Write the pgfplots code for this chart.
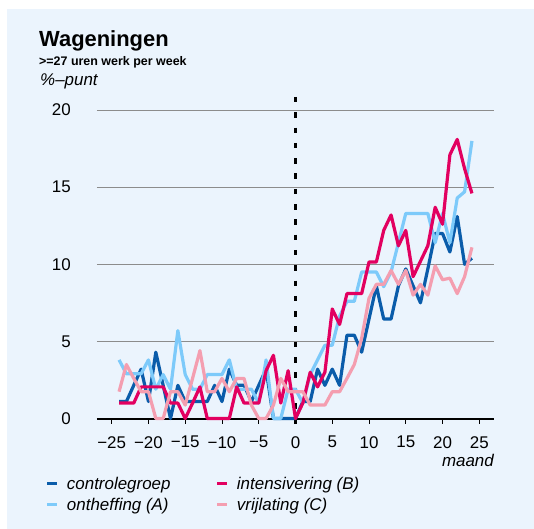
\documentclass[border=0pt]{standalone}
\usepackage{fontspec}
\setmainfont{Liberation Sans}
\usepackage{pgfplots}
\pgfplotsset{compat=1.18}

\definecolor{panel}{RGB}{235,244,253}
\definecolor{ctrl}{RGB}{10,92,170}
\definecolor{grpA}{RGB}{125,202,250}
\definecolor{grpB}{RGB}{226,0,96}
\definecolor{grpC}{RGB}{244,158,176}
\definecolor{gridgray}{RGB}{140,140,140}

\begin{document}
\begin{tikzpicture}
\fill[white] (-97bp,-110.5bp) rectangle (437bp,418.5bp);
\fill[panel] (-90bp,-110.5bp) rectangle (437bp,409.5bp);
\begin{axis}[
  at={(0,0)}, anchor=south west,
  scale only axis, width=397bp, height=321.5bp,
  xmin=-27, xmax=27, ymin=0, ymax=20.85,
  clip=false,
  axis line style={draw=none},
  xtick={-25,-20,...,25},
  xticklabels={−25,−20,−15,−10,−5,0,5,10,15,20,25},
  ytick={5,10,15,20},
  extra y ticks={0},
  extra y tick style={grid style={black, line width=2bp}, tick style={draw=none}},
  ymajorgrids,
  grid style={gridgray, line width=1.2bp},
  tick align=outside,
  xtick pos=bottom, ytick pos=left,
  major tick length=5bp,
  xtick style={black, line width=0.9bp},
  ytick style={draw=none},
  ticklabel style={font=\fontsize{17}{17}\selectfont},
  /pgf/number format/assume math mode=true,
  xticklabel style={inner sep=0pt, anchor=north, yshift=-12.5bp},
  yticklabel style={inner sep=0pt, anchor=east, xshift=-21bp},
  legend columns=2, transpose legend,
  legend cell align=left,
  legend style={at={(-0.130,-0.182)}, anchor=north west, draw=none, fill=none,
    inner sep=0pt, font=\itshape\fontsize{17}{17}\selectfont,
    nodes={inner sep=0pt, text height=12bp, text depth=4bp}, row sep=5.5bp,
    /tikz/every odd column/.append style={column sep=8.4bp},
    /tikz/every even column/.append style={column sep=45bp}},
  legend image code/.code={\draw[#1, line width=3bp] (0bp,2bp) -- (10bp,2bp);},
  every axis plot/.append style={line width=3.2bp, line join=round},
]
\addplot[black, line width=2.2bp, dash pattern=on 5.5bp off 9.8bp, forget plot]
  coordinates {(0,20.85) (0,-0.75)};

% controlegroep
\addplot[ctrl] coordinates {
(-24,1.1) (-23,1.1) (-22,2.15) (-21,3.2) (-20,1.1) (-19,4.3) (-18,2.15) (-17,0)
(-16,2.15) (-15,1.1) (-14,1.1) (-13,1.1) (-12,1.1) (-11,2.15) (-10,1.1) (-9,3.2)
(-8,2.15) (-7,2.15) (-6,1.1) (-5,2.15) (-4,3.2) (-3,0) (-2,0) (-1,0)
(0,0) (1,1.1) (2,1.1) (3,3.2) (4,2.15) (5,3.2) (6,2.15) (7,5.4)
(8,5.4) (9,4.3) (10,6.45) (11,8.6) (12,6.45) (13,6.45) (14,8.6) (15,9.7)
(16,8.6) (17,7.5) (18,9.7) (19,12.0) (20,12.0) (21,10.8) (22,13.1) (23,10.0) (24,10.4)};
\addlegendentry{controlegroep}

% ontheffing (A)
\addplot[grpA] coordinates {
(-24,3.8) (-23,2.9) (-22,2.9) (-21,2.9) (-20,3.8) (-19,1.9) (-18,2.85) (-17,1.9)
(-16,5.7) (-15,2.85) (-14,1.9) (-13,1.9) (-12,2.85) (-11,2.85) (-10,2.85) (-9,3.8)
(-8,1.9) (-7,1.9) (-6,1.9) (-5,1.0) (-4,3.8) (-3,0) (-2,0) (-1,1.9)
(0,1.9) (1,1.0) (2,2.85) (3,3.8) (4,4.75) (5,4.75) (6,6.65) (7,7.6)
(8,7.6) (9,9.5) (10,9.5) (11,9.5) (12,8.55) (13,9.5) (14,11.4) (15,13.3)
(16,13.3) (17,13.3) (18,13.3) (19,11.4) (20,13.3) (21,11.4) (22,14.3) (23,14.7) (24,18.0)};
\addlegendentry{ontheffing (A)}

% intensivering (B)
\addplot[grpB] coordinates {
(-24,1.0) (-23,1.0) (-22,1.0) (-21,2.05) (-20,2.05) (-19,2.05) (-18,2.05) (-17,1.0)
(-16,1.0) (-15,0) (-14,1.0) (-13,2.05) (-12,0) (-11,0) (-10,0) (-9,0)
(-8,2.05) (-7,1.0) (-6,1.0) (-5,1.0) (-4,3.1) (-3,4.1) (-2,1.0) (-1,3.1)
(0,0) (1,1.0) (2,3.0) (3,2.05) (4,3.0) (5,7.1) (6,6.1) (7,8.1)
(8,8.1) (9,8.1) (10,10.15) (11,10.15) (12,12.2) (13,13.2) (14,11.2) (15,12.2)
(16,9.2) (17,10.2) (18,11.2) (19,13.7) (20,12.6) (21,17.1) (22,18.1) (23,16.2) (24,14.6)};
\addlegendentry{intensivering (B)}

% vrijlating (C)
\addplot[grpC] coordinates {
(-24,1.74) (-23,3.5) (-22,2.6) (-21,1.74) (-20,1.74) (-19,0) (-18,0) (-17,1.74)
(-16,1.74) (-15,0.87) (-14,2.6) (-13,4.4) (-12,1.74) (-11,1.74) (-10,2.6) (-9,1.74)
(-8,2.6) (-7,2.6) (-6,0.87) (-5,0) (-4,0) (-3,0.87) (-2,2.6) (-1,1.74)
(0,1.74) (1,1.74) (2,0.87) (3,0.87) (4,0.87) (5,1.74) (6,1.74) (7,2.6)
(8,3.5) (9,5.2) (10,7.8) (11,8.7) (12,8.7) (13,9.6) (14,8.7) (15,9.6)
(16,8.0) (17,8.7) (18,8.0) (19,9.9) (20,9.0) (21,9.1) (22,8.1) (23,9.2) (24,11.1)};
\addlegendentry{vrijlating (C)}
\end{axis}
\node[anchor=base west, inner sep=0pt, font=\bfseries\fontsize{22}{22}\selectfont] at (-58bp,371.8bp) {Wageningen};
\node[anchor=base west, inner sep=0pt, font=\bfseries\fontsize{12.5}{12.5}\selectfont] at (-58bp,352.8bp) {>=27 uren werk per week};
\node[anchor=base west, inner sep=0pt, font=\itshape\fontsize{17}{17}\selectfont] at (-57bp,332.5bp) {\%–punt};
\node[anchor=base east, inner sep=0pt, font=\itshape\fontsize{17}{17}\selectfont] at (397bp,-48.2bp) {maand};
\end{tikzpicture}
\end{document}
